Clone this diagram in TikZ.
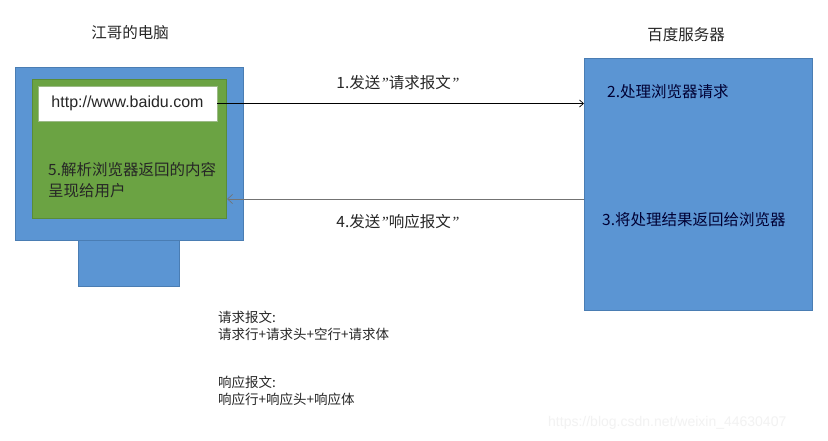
\documentclass[tikz,border=0pt]{standalone}
\usepackage{fontspec}
\setmainfont{Liberation Sans}
\newfontfamily\cjk{Noto Sans CJK SC}
\newfontfamily\quotefont{Liberation Serif}
\newcommand{\myquote}{{\quotefont\itshape ”}}
\usetikzlibrary{arrows.meta}
\definecolor{boxblue}{HTML}{5B95D3}
\definecolor{blueedge}{HTML}{4A7DB3}
\definecolor{scrgreen}{HTML}{6BA343}
\definecolor{greenedge}{HTML}{5A8C37}
\definecolor{txt}{HTML}{262626}
\tikzset{
  shapebox/.style={draw, inner sep=0pt, outer sep=0pt, anchor=north west},
  bluebox/.style={shapebox, fill=boxblue, draw=blueedge, line width=0.8pt},
  label/.style={inner sep=0pt, text=txt, font=\cjk\fontsize{15.5}{21}\selectfont},
  small/.style={inner sep=0pt, text=txt, font=\cjk\fontsize{13.5}{16}\selectfont, anchor=west},
  msg/.style={-{Straight Barb[length=4pt,width=7pt]}, line width=0.7pt}
}
\begin{document}
\begin{tikzpicture}[x=1pt,y=-1pt]
\useasboundingbox (0,0) rectangle (828,441);
\fill[white] (0,0) rectangle (828,441);
% client computer
\node[bluebox, minimum width=101pt, minimum height=49pt] (stand) at (78,237) {};
\node[bluebox, minimum width=228pt, minimum height=173pt] (monitor) at (15,67) {};
\node[shapebox, fill=scrgreen, draw=greenedge, line width=0.6pt, minimum width=194pt, minimum height=139pt] (screen) at (32,79) {};
\node[shapebox, fill=white, draw=greenedge!60, line width=0.5pt, minimum width=179pt, minimum height=35pt] (url) at (38,86) {};
\node[inner sep=0pt, font=\fontsize{16}{18}\selectfont, text=black!85] (urltext) at (url.center) {http://www.baidu.com};
\node[label, anchor=north west, align=left] (parse) at (48,162) {5.解析浏览器返回的内容\\呈现给用户};
\node[label] (pctitle) at (130,33) {江哥的电脑};
% server
\node[bluebox, minimum width=228pt, minimum height=252pt] (server) at (584,58) {};
\node[label] (srvtitle) at (686,35) {百度服务器};
\node[label, anchor=west, text=black!80!blue] (step2) at (607,92) {2.处理浏览器请求};
\node[label, anchor=west, text=black!80!blue] (step3) at (602,220) {3.将处理结果返回给浏览器};
% messages
\draw[msg, black] (url.east) -- (url.east -| server.west);
\coordinate (ret) at (584,199);
\draw[msg, black!55, -{Straight Barb[length=5pt,width=9pt]}] (ret) -- ([xshift=1pt]screen.east |- ret);
\node[label] (m1) at (398,83) {1.发送\myquote 请求报文\myquote};
\node[label] (m4) at (398,222) {4.发送\myquote 响应报文\myquote};
% notes
\node[small] (n1) at (218,317) {请求报文:};
\node[small] (n2) at (218,334) {请求行+请求头+空行+请求体};
\node[small] (n3) at (218,382) {响应报文:};
\node[small] (n4) at (218,399) {响应行+响应头+响应体};
% watermark
\node[inner sep=0pt, anchor=west, text=black!5, font=\fontsize{14}{16}\selectfont] (wm) at (548,423) {https://blog.csdn.net/weixin\_44630407};
\end{tikzpicture}
\end{document}
